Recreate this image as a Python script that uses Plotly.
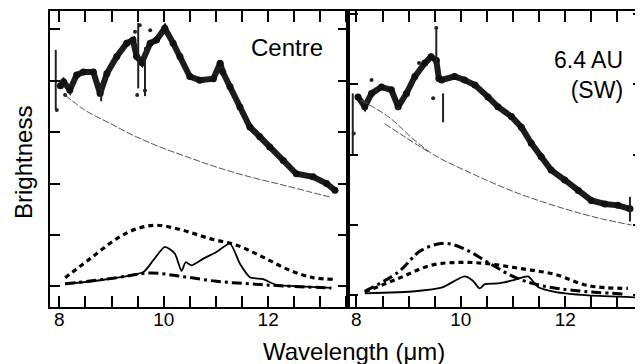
import plotly.graph_objects as go

# ---------------- data (arbitrary brightness units) ----------------
# Left panel: Centre
c_obs_x = [8.02, 8.08, 8.20, 8.33, 8.46, 8.65, 8.78, 8.91, 9.10, 9.29, 9.41, 9.48, 9.58, 9.74, 9.86,
           10.02, 10.18, 10.31, 10.50, 10.69, 10.95, 11.08, 11.13, 11.27, 11.46, 11.65, 11.84,
           12.03, 12.29, 12.54, 12.86, 13.12, 13.28]
c_obs_y = [3.90, 3.98, 3.82, 4.11, 4.17, 4.17, 3.75, 4.14, 4.47, 4.73, 4.79, 4.47, 4.35, 4.73, 4.79,
           5.02, 4.73, 4.47, 4.08, 4.01, 4.04, 4.34, 4.17, 3.88, 3.49, 3.10, 2.91,
           2.71, 2.45, 2.19, 2.13, 2.00, 1.87]
c_spike_x = [7.93, 7.93, None, 9.51, 9.51, None, 9.64, 9.64, None, 8.80, 8.80]
c_spike_y = [3.45, 4.60, None, 3.85, 5.12, None, 3.70, 4.65, None, 3.60, 3.95]
c_out_x = [9.54, 9.74, 9.49, 9.64, 7.95, 8.11, 9.45]
c_out_y = [5.08, 4.98, 3.72, 3.81, 3.43, 3.72, 4.95]
c_cont_x = [8.11, 8.50, 8.97, 9.45, 9.93, 10.50, 11.01, 11.65, 12.29, 12.75, 13.18]
c_cont_y = [3.72, 3.42, 3.17, 2.92, 2.71, 2.50, 2.32, 2.13, 1.97, 1.85, 1.74]
c_dash_x = [8.11, 8.59, 9.10, 9.48, 9.86, 10.37, 10.88, 11.40, 11.90, 12.42, 12.86, 13.24]
c_dash_y = [0.17, 0.54, 0.93, 1.12, 1.19, 1.09, 0.93, 0.80, 0.57, 0.31, 0.17, 0.14]
c_solid_x = [8.11, 8.78, 9.61, 9.80, 10.02, 10.21, 10.34, 10.42, 10.53, 10.76, 11.01, 11.27,
             11.46, 11.65, 11.90, 12.16, 12.61, 13.21]
c_solid_y = [0.05, 0.12, 0.28, 0.51, 0.77, 0.64, 0.30, 0.47, 0.41, 0.54, 0.67, 0.83,
             0.44, 0.18, 0.14, 0.03, 0.00, -0.03]
c_dd_x = [8.11, 9.10, 9.74, 10.37, 11.01, 11.65, 12.29, 13.21]
c_dd_y = [0.05, 0.17, 0.26, 0.19, 0.10, 0.05, 0.01, -0.03]

# Right panel: 6.4 AU (SW)
s_obs_x = [8.03, 8.16, 8.29, 8.48, 8.67, 8.80, 8.96, 9.12, 9.31, 9.43, 9.53, 9.58, 9.63, 9.88,
           10.07, 10.27, 10.52, 10.71, 10.97, 11.16, 11.35, 11.54, 11.73, 11.99, 12.25, 12.50,
           12.76, 13.01, 13.24]
s_obs_y = [2.82, 2.68, 2.87, 2.96, 2.92, 2.68, 2.87, 3.11, 3.30, 3.39, 3.34, 3.08, 3.06, 3.11,
           3.06, 2.99, 2.82, 2.68, 2.54, 2.39, 2.16, 1.97, 1.78, 1.64, 1.49, 1.35,
           1.30, 1.28, 1.23]
s_spike_x = [7.93, 7.93, None, 9.66, 9.66, None, 9.53, 9.53, None, 13.24, 13.24]
s_spike_y = [2.00, 2.87, None, 2.46, 2.87, None, 3.20, 3.77, None, 1.05, 1.40]
s_out_x = [8.29, 8.80, 9.47, 9.53, 9.20, 7.95]
s_out_y = [3.06, 2.66, 2.80, 3.80, 3.30, 2.30]
s_cont_x = [8.09, 8.61, 9.12, 9.50, 10.07, 11.03, 11.99, 12.69, 13.27]
s_cont_y = [2.77, 2.54, 2.20, 1.99, 1.78, 1.47, 1.23, 1.09, 1.00]
s_cont2_x = [8.54, 8.85, 9.12, 9.40]
s_cont2_y = [2.44, 2.29, 2.16, 2.03]
s_dd_x = [8.16, 8.80, 9.24, 9.69, 10.07, 10.52, 11.03, 11.54, 12.18, 13.14]
s_dd_y = [0.06, 0.33, 0.64, 0.74, 0.66, 0.47, 0.26, 0.14, 0.07, 0.02]
s_dash_x = [8.16, 8.80, 9.44, 10.01, 10.52, 11.16, 11.80, 12.44, 13.20]
s_dash_y = [0.05, 0.24, 0.43, 0.47, 0.45, 0.38, 0.30, 0.14, 0.10]
s_solid_x = [8.16, 9.12, 9.63, 10.07, 10.23, 10.36, 10.46, 10.71, 11.03, 11.29, 11.48, 11.80,
             12.44, 13.46]
s_solid_y = [0.03, 0.06, 0.11, 0.27, 0.21, 0.10, 0.16, 0.17, 0.22, 0.27, 0.12, 0.05,
             0.00, -0.03]

x_tick_vals = [8, 10, 12]
x_tick_text = ["8", "10", "12"]
panel_labels = ["Centre", "6.4 AU<br>(SW)"]
x_title = "Wavelength (μm)"
y_title = "Brightness"

# ---------------- figure ----------------
# The page body has an 8 px default margin, so the figure is made 8 px smaller
# and every margin is measured from that offset.
OFF = 8
FONT = "Liberation Sans, Arial, Helvetica, sans-serif"
fig = go.Figure()


def add_panel(xa, ya, obs_x, obs_y, spx, spy, outx, outy, conts, dash, solid, dd):
    fig.add_trace(go.Scatter(x=obs_x, y=obs_y, mode="lines", xaxis=xa, yaxis=ya,
                             line=dict(color="#1c1c1c", width=6), showlegend=False))
    fig.add_trace(go.Scatter(x=obs_x, y=obs_y, mode="markers", xaxis=xa, yaxis=ya,
                             marker=dict(color="#111", size=7), showlegend=False))
    fig.add_trace(go.Scatter(x=spx, y=spy, mode="lines", xaxis=xa, yaxis=ya,
                             line=dict(color="#222", width=2), showlegend=False))
    fig.add_trace(go.Scatter(x=outx, y=outy, mode="markers", xaxis=xa, yaxis=ya,
                             marker=dict(color="#222", size=4), showlegend=False))
    for cx, cy in conts:
        fig.add_trace(go.Scatter(x=cx, y=cy, mode="lines", xaxis=xa, yaxis=ya,
                                 line=dict(color="#555", width=1, dash="7px,2px", shape="spline"),
                                 showlegend=False))
    fig.add_trace(go.Scatter(x=dash[0], y=dash[1], mode="lines", xaxis=xa, yaxis=ya,
                             line=dict(color="black", width=3.2, dash="5px,4px", shape="spline"),
                             showlegend=False))
    fig.add_trace(go.Scatter(x=dd[0], y=dd[1], mode="lines", xaxis=xa, yaxis=ya,
                             line=dict(color="black", width=3, dash="10px,4px,3px,4px", shape="spline"),
                             showlegend=False))
    fig.add_trace(go.Scatter(x=solid[0], y=solid[1], mode="lines", xaxis=xa, yaxis=ya,
                             line=dict(color="black", width=1.8, shape="spline", smoothing=0.6),
                             showlegend=False))


add_panel("x", "y", c_obs_x, c_obs_y, c_spike_x, c_spike_y, c_out_x, c_out_y,
          [(c_cont_x, c_cont_y)], (c_dash_x, c_dash_y), (c_solid_x, c_solid_y), (c_dd_x, c_dd_y))
add_panel("x2", "y2", s_obs_x, s_obs_y, s_spike_x, s_spike_y, s_out_x, s_out_y,
          [(s_cont_x, s_cont_y), (s_cont2_x, s_cont2_y)], (s_dash_x, s_dash_y),
          (s_solid_x, s_solid_y), (s_dd_x, s_dd_y))
# empty trace so that the right-hand tick axis is drawn
fig.add_trace(go.Scatter(x=[], y=[], xaxis="x2", yaxis="y3", showlegend=False))

split = 298 / 593
xcommon = dict(tickmode="array", tickvals=x_tick_vals, ticktext=x_tick_text,
               ticks="inside", ticklen=11, tickwidth=1.6, tickcolor="black",
               minor=dict(dtick=0.5, tick0=8, ticks="inside", ticklen=11, tickwidth=1.6,
                          tickcolor="black"),
               showline=True, linewidth=2, linecolor="black", mirror="ticks",
               showgrid=False, zeroline=False, ticklabelstandoff=-6,
               tickfont=dict(family=FONT, size=19, color="black"))
ycommon = dict(ticks="inside", ticklen=10, tickwidth=1.6, tickcolor="black", dtick=1, tick0=0,
               showticklabels=False, showgrid=False, zeroline=False)

fig.update_layout(
    width=643 - OFF, height=364 - OFF,
    margin=dict(l=50 - OFF, r=0, t=11 - OFF, b=57),
    paper_bgcolor="white", plot_bgcolor="white",
    xaxis=dict(domain=[0, split], range=[7.82, 13.53], anchor="y", **xcommon),
    xaxis2=dict(domain=[split, 1], range=[7.839, 13.49], anchor="y2", **xcommon),
    yaxis=dict(domain=[0, 1], range=[-0.40, 5.355], anchor="x", showline=True, linewidth=2,
               linecolor="black", mirror="ticks", **ycommon),
    yaxis2=dict(domain=[0, 1], range=[-0.164, 4.04], anchor="x2", showline=True, linewidth=2,
                linecolor="black", mirror=False, **ycommon),
    yaxis3=dict(range=[-0.164, 4.04], overlaying="y2", anchor="x2", side="right",
                showline=False, **ycommon),
    annotations=[
        dict(text=panel_labels[0], x=13.09, y=4.64, xref="x", yref="y", xanchor="right",
             yanchor="middle", showarrow=False, font=dict(family=FONT, size=24, color="black")),
        dict(text=panel_labels[1], x=13.15, y=3.13, xref="x2", yref="y2", xanchor="right",
             yanchor="middle", align="right", showarrow=False,
             font=dict(family=FONT, size=23, color="black")),
        dict(text=y_title, x=(23 - 50) / 593, y=(307 - 163) / 296, xref="paper", yref="paper",
             textangle=-90, xanchor="center", yanchor="middle", showarrow=False,
             font=dict(family=FONT, size=24, color="black")),
        dict(text=x_title, x=(354 - 50) / 593, y=(307 - 351) / 296, xref="paper", yref="paper",
             xanchor="center", yanchor="middle", showarrow=False,
             font=dict(family=FONT, size=24, color="black")),
    ],
)

fig.write_html("out.html")
